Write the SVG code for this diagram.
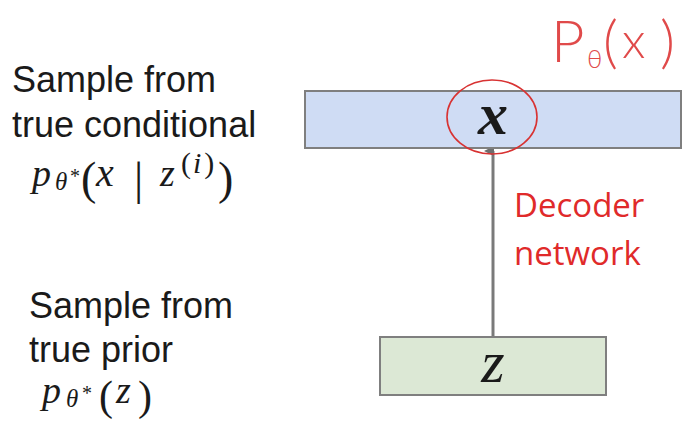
<svg xmlns="http://www.w3.org/2000/svg" width="688" height="426" viewBox="0 0 688 426">
<style>
.lbl{font-family:"Liberation Sans",Arial,sans-serif;font-size:36px;fill:#1a1a1a}
.mi{font-family:"Liberation Serif","Times New Roman",serif;font-style:italic;fill:#1a1a1a}
.mu{font-family:"Liberation Serif","Times New Roman",serif;fill:#1a1a1a}
.red{font-family:"Open Sans","Noto Sans",sans-serif;font-size:33px;fill:#e02a2a}
.hand{font-family:"Lato","Noto Sans",sans-serif;font-weight:300;fill:#e04a4a}
.box{stroke:#7f7f7f;stroke-width:2}
</style>
<defs>
<marker id="ah" markerWidth="10" markerHeight="10" refX="5" refY="9" orient="auto" markerUnits="userSpaceOnUse" viewBox="0 0 10 10">
<path d="M0,10 L5,0 L10,10 Z" fill="#6e6e6e"/>
</marker>
</defs>
<rect width="688" height="426" fill="#ffffff"/>

<g id="left-top">
<text class="lbl" x="12" y="92">Sample from</text>
<text class="lbl" x="12" y="137">true conditional</text>
<text class="mi" x="32" y="186" font-size="38">p</text>
<text class="mi" x="55" y="190" font-size="25">θ</text>
<text class="mu" x="70" y="183" font-size="20">*</text>
<text class="mu" x="81" y="194" font-size="46">(</text>
<text class="mi" x="96" y="186" font-size="40">x</text>
<text class="mu" x="134" y="194" font-size="46">|</text>
<text class="mi" x="160" y="186" font-size="38">z</text>
<text x="181" y="173" font-size="30"><tspan class="mu">(</tspan><tspan class="mi" dx="2">i</tspan><tspan class="mu" dx="3">)</tspan></text>
<text class="mu" x="218" y="194" font-size="46">)</text>
</g>

<g id="left-bottom">
<text class="lbl" x="29" y="318">Sample from</text>
<text class="lbl" x="29" y="362">true prior</text>
<text class="mi" x="42" y="403" font-size="38">p</text>
<text class="mi" x="66" y="407" font-size="25">θ</text>
<text class="mu" x="82" y="400" font-size="20">*</text>
<text class="mu" x="99" y="410" font-size="42">(</text>
<text class="mi" x="116" y="403" font-size="38">z</text>
<text class="mu" x="138" y="410" font-size="42">)</text>
</g>

<g id="connectors">
<line x1="493" y1="337" x2="493" y2="151" stroke="#7a7a7a" stroke-width="3" marker-end="url(#ah)"/>
</g>

<g id="node-x">
<rect class="box" x="305" y="91" width="376" height="57" fill="#cfdcf4"/>
<text class="mi" x="493" y="134" font-size="60" font-weight="bold" text-anchor="middle">x</text>
</g>

<g id="node-z">
<rect class="box" x="380" y="337" width="226" height="58" fill="#dce8d5"/>
<text class="mi" x="493" y="382" font-size="60" text-anchor="middle">z</text>
</g>

<g id="label-decoder">
<text class="red" x="514" y="217">Decoder</text>
<text class="red" x="514" y="265">network</text>
</g>

<g id="annotation">
<ellipse cx="492" cy="117" rx="45" ry="37" fill="none" stroke="#d83232" stroke-width="1.6"/>
<text class="hand" x="551" y="62" font-size="58">P</text>
<text class="hand" x="587" y="68" font-size="26">θ</text>
<text class="hand" x="603" y="62" font-size="58">(</text>
<text class="hand" x="622" y="58" font-size="50">x</text>
<text class="hand" x="660" y="62" font-size="58">)</text>
</g>
</svg>
